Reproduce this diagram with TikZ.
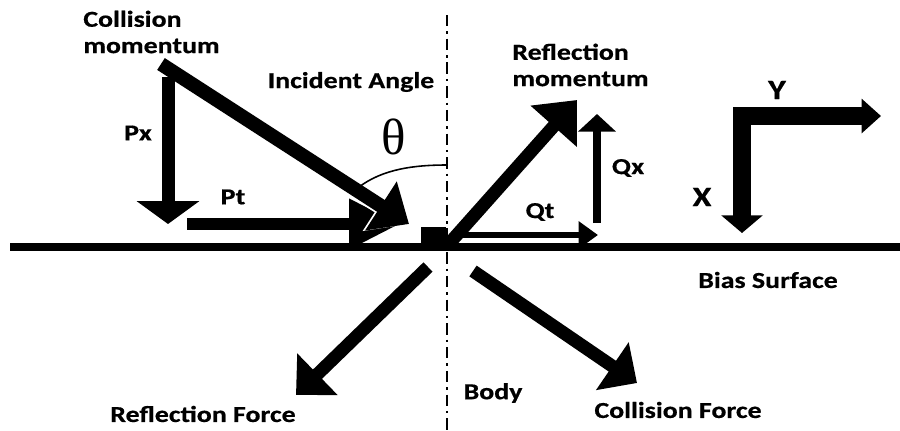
\documentclass[tikz,border=0pt]{standalone}
\usepackage{fontspec}
\usepackage{tikz}
\usetikzlibrary{positioning,calc}
\usetikzlibrary{arrows.meta}
\newfontfamily\labfont[FakeStretch=1.22,BoldFeatures={FakeBold=0.6}]{Carlito}
\newfontfamily\thetafont{Liberation Serif}
\tikzset{
  vec/.style={draw=black,line width=#1},
  axis/.style={draw=black,line width=1.6pt,dash pattern=on 6.5pt off 2.8pt on 1.4pt off 2.8pt},
  lab/.style={font=\labfont\bfseries\fontsize{13}{15}\selectfont,inner sep=0pt,align=left},
  big/.style={font=\labfont\bfseries\fontsize{16}{18}\selectfont,inner sep=0pt},
}
\tikzset{body/.style={fill=black,inner sep=0pt,minimum width=14pt,minimum height=11.5pt}, arc/.style={draw=black,line width=0.9pt}}

\begin{document}
\begin{tikzpicture}[x=0.02cm,y=-0.02cm]
\useasboundingbox (0,0) rectangle (900,430);
\coordinate (sl) at (10,247);
\coordinate (sr) at (900,247);
\coordinate (ntop) at (447,15);
\coordinate (nbot) at (447,430);
\coordinate (cm0) at (161,64);
\coordinate (cm1) at (409,224);
\coordinate (px0) at (168,77);
\coordinate (px1) at (168,224);
\coordinate (pt0) at (187,224);
\coordinate (pt1) at (400,224);
\coordinate (rm0) at (447,246);
\coordinate (rm1) at (577,100);
\coordinate (qx0) at (597,223);
\coordinate (qx1) at (597,114);
\coordinate (qt0) at (452,235);
\coordinate (qt1) at (598,235);
\coordinate (xend) at (742,233);
\coordinate (orig) at (742,116);
\coordinate (yend) at (881,116);
\coordinate (rf0) at (428,267);
\coordinate (rf1) at (296,395);
\coordinate (cf0) at (473,271);
\coordinate (cf1) at (637,383);
\coordinate (tha) at (359,187);
\coordinate (thb) at (447,165);
\draw[axis] (ntop)--(nbot);
\draw[vec=4pt] (sl)--(sr);
\node[body] (bd) at (433.5,237) {};
\draw[vec=7.4pt,-{Triangle[length=13pt,width=35pt]}] (px0)--(px1);
\draw[vec=6.8pt,-{Triangle[length=29pt,width=27pt]}] (pt0)--(pt1);
% white rim where the heads meet
\draw[vec=10pt,draw=white,-{Triangle[length=20pt,width=34pt]}] ($(cm0)!0.5!(cm1)$)--(cm1);
\draw[vec=8pt,-{Triangle[length=19pt,width=32pt]}] (cm0)--(cm1);
\draw[arc] (tha) .. controls (383,169) and (414,165) .. (thb);
\draw[vec=7.4pt,-{Triangle[length=20pt,width=34pt]}] (rm0)--(rm1);
\draw[vec=5pt,-{Triangle[length=10pt,width=21pt]}] (qx0)--(qx1);
\draw[vec=3.6pt,-{Triangle[length=11pt,width=15pt]}] (qt0)--(qt1);
\draw[vec=10pt,line join=miter,{Triangle[length=10pt,width=23pt]}-{Triangle[length=11pt,width=19pt]}] (xend)--(orig)--(yend);
\draw[vec=7.4pt,-{Triangle[length=17pt,width=32pt]}] (rf0)--(rf1);
\draw[vec=7.4pt,-{Triangle[length=17pt,width=32pt]}] (cf0)--(cf1);
\node[lab,anchor=west] (colmom) at (83,32) {Collision\\momentum};
\node[lab] (incid) at (351,82) {Incident Angle};
\node[lab] (px) at (138,133) {Px};
\node[lab] (pt) at (233,197) {Pt};
\node[inner sep=0pt,font=\thetafont\fontsize{29}{29}\selectfont] (theta) at (394,137) {θ};
\node[lab,anchor=west] (refmom) at (512,65) {Reflection\\momentum};
\node[lab] (qx) at (628,168) {Qx};
\node[lab] (qt) at (540,212) {Qt};
\node[big] (ylab) at (777,90) {Y};
\node[big] (xlab) at (702,197) {X};
\node[lab] (bias) at (768,280) {Bias Surface};
\node[lab] (body) at (493,393) {Body};
\node[lab] (refF) at (203,414) {Reflection Force};
\node[lab] (colF) at (678,410) {Collision Force};
\end{tikzpicture}
\end{document}
